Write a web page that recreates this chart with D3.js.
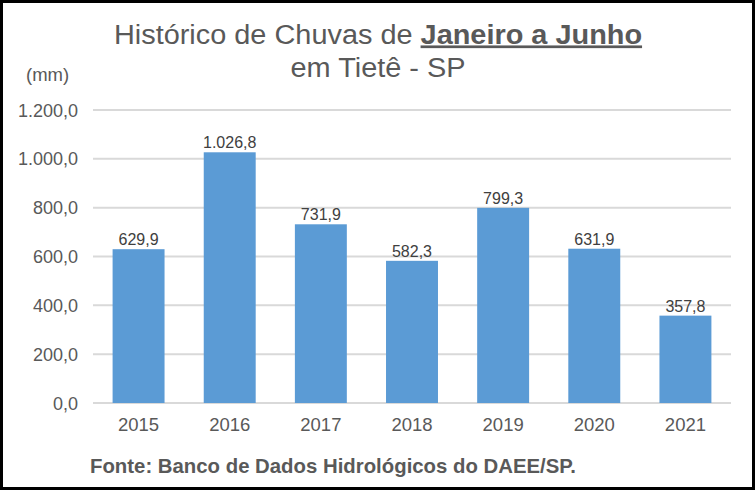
<!DOCTYPE html>
<html lang="pt">
<head>
<meta charset="UTF-8">
<title>Histórico de Chuvas de Janeiro a Junho em Tietê - SP</title>
<script src="https://d3js.org/d3.v7.min.js"></script>
<style>
  body { margin: 0; padding: 0; background: #fff; }
  svg { display: block; font-family: "Liberation Sans", Arial, sans-serif; }
</style>
</head>
<body>
<svg width="755" height="490"></svg>
<script>
// Dados (mm)
const anos = ["2015", "2016", "2017", "2018", "2019", "2020", "2021"];
const chuvas = [629.9, 1026.8, 731.9, 582.3, 799.3, 631.9, 357.8];
const ticksY = [0, 200, 400, 600, 800, 1000, 1200];

const width = 755, height = 490;
const margin = { top: 110, right: 24, bottom: 87, left: 93 };

const svg = d3.select("svg");

// formato pt-BR: 1.026,8
const fmt = d3.formatLocale({ decimal: ",", thousands: ".", grouping: [3], currency: ["R$", ""] }).format(",.1f");

const x = d3.scaleBand()
    .domain(anos)
    .range([margin.left, width - margin.right])
    .paddingInner(0.43)
    .paddingOuter(0.215);

const y = d3.scaleLinear()
    .domain([0, 1200])
    .range([height - margin.bottom, margin.top]);

// linhas de grade
svg.append("g")
    .selectAll("line")
    .data(ticksY)
    .join("line")
    .attr("x1", margin.left)
    .attr("x2", width - margin.right)
    .attr("y1", d => y(d))
    .attr("y2", d => y(d))
    .attr("stroke", "#d9d9d9")
    .attr("stroke-width", 2);

// rótulos do eixo Y
svg.append("g")
    .selectAll("text")
    .data(ticksY)
    .join("text")
    .attr("x", 78)
    .attr("y", d => y(d) + 6.5)
    .attr("text-anchor", "end")
    .attr("font-size", 18)
    .attr("fill", "#595959")
    .text(d => fmt(d));

// barras
svg.append("g")
    .selectAll("rect")
    .data(chuvas)
    .join("rect")
    .attr("x", (d, i) => x(anos[i]))
    .attr("width", x.bandwidth())
    .attr("y", d => y(d))
    .attr("height", d => y(0) - y(d))
    .attr("fill", "#5b9bd5");

// valores acima das barras
svg.append("g")
    .selectAll("text")
    .data(chuvas)
    .join("text")
    .attr("x", (d, i) => x(anos[i]) + x.bandwidth() / 2)
    .attr("y", d => y(d) - 4)
    .attr("text-anchor", "middle")
    .attr("font-size", 16)
    .attr("fill", "#404040")
    .text(d => fmt(d));

// anos no eixo X
svg.append("g")
    .selectAll("text")
    .data(anos)
    .join("text")
    .attr("x", d => x(d) + x.bandwidth() / 2)
    .attr("y", y(0) + 28)
    .attr("text-anchor", "middle")
    .attr("font-size", 18.5)
    .attr("fill", "#595959")
    .text(d => d);

// título
const t1 = svg.append("text")
    .attr("transform", "translate(378,43.5) scale(1.07,1)")
    .attr("text-anchor", "middle")
    .attr("font-size", 27)
    .attr("fill", "#595959");
t1.append("tspan").text("Histórico de Chuvas de ");
t1.append("tspan").attr("font-weight", "bold").attr("text-decoration", "underline").text("Janeiro a Junho");

svg.append("text")
    .attr("transform", "translate(378,77) scale(1.07,1)")
    .attr("text-anchor", "middle")
    .attr("font-size", 27)
    .attr("fill", "#595959")
    .text("em Tietê - SP");

// unidade
svg.append("text")
    .attr("x", 26)
    .attr("y", 81)
    .attr("font-size", 18.5)
    .attr("fill", "#595959")
    .text("(mm)");

// fonte
svg.append("text")
    .attr("transform", "translate(90,472.5) scale(0.97,1)")
    .attr("font-size", 21)
    .attr("font-weight", "bold")
    .attr("fill", "#595959")
    .text("Fonte: Banco de Dados Hidrológicos do DAEE/SP.");

// moldura preta
svg.append("rect")
    .attr("x", 1.5).attr("y", 1.5)
    .attr("width", width - 3).attr("height", height - 3)
    .attr("fill", "none")
    .attr("stroke", "#000")
    .attr("stroke-width", 3);
</script>
</body>
</html>
